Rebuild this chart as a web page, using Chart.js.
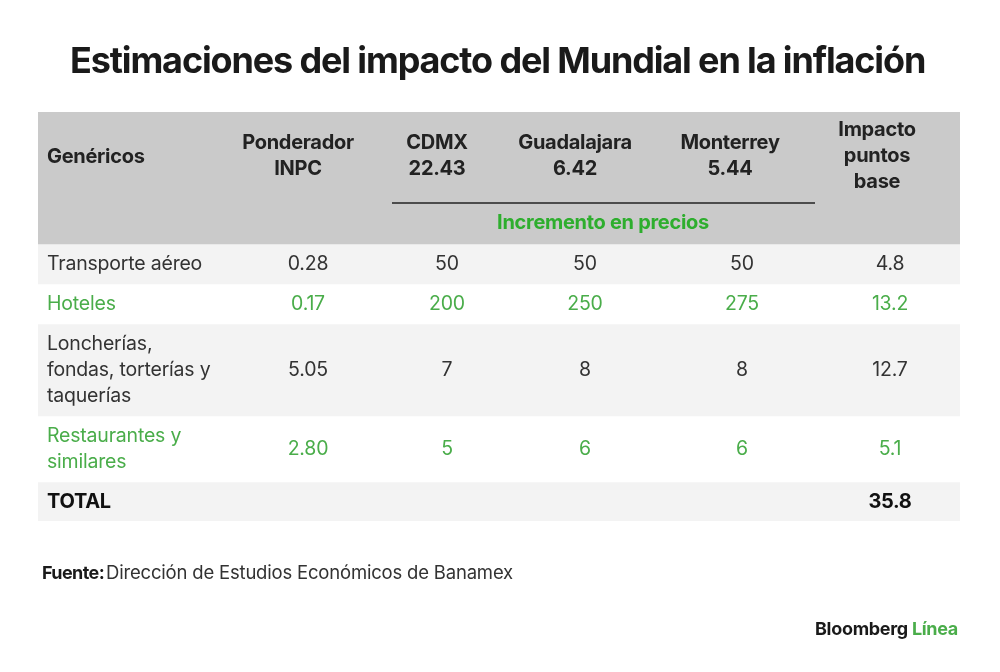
<!DOCTYPE html>
<html lang="es">
<head>
<meta charset="UTF-8" />
<title>Estimaciones del impacto del Mundial en la inflación</title>
<script src="https://cdn.jsdelivr.net/npm/chart.js"></script>
<style>
  html, body { margin: 0; padding: 0; background: #fff; }
  canvas { display: block; }
</style>
</head>
<body>
<canvas id="tabla" width="1000" height="672"></canvas>
<script>
// datos de la tabla
const titulo = "Estimaciones del impacto del Mundial en la inflación";
const genericos = ["Transporte aéreo", "Hoteles", "Loncherías,\nfondas, torterías y\ntaquerías", "Restaurantes y\nsimilares"];
const ponderador = [0.28, 0.17, 5.05, 2.80];
const ciudades = ["CDMX", "Guadalajara", "Monterrey"];
const pesoCiudad = [22.43, 6.42, 5.44];
const cdmx = [50, 200, 7, 5];
const guadalajara = [50, 250, 8, 6];
const monterrey = [50, 275, 8, 6];
const impacto = [4.8, 13.2, 12.7, 5.1];
const totalImpacto = 35.8;
const filasVerdes = [1, 3];
const fuente = "Dirección de Estudios Económicos de Banamex";

// layout
const FONT = "Inter, 'Liberation Sans', sans-serif";
const GREEN = "#4aad4a";
const GREEN_BOLD = "#2eae2e";
const HEADER_H = 132;
const LINE_H = 26;
const rowH = lines => 14 + lines * LINE_H;

const bodyLines = genericos.map(g => g.split("\n").length);
const edges = [0, HEADER_H];
bodyLines.forEach(n => edges.push(edges[edges.length - 1] + rowH(n)));
edges.push(edges[edges.length - 1] + 39); // fila TOTAL
const tableH = edges[edges.length - 1];

const rowColors = ["#cacaca"];
for (let i = 0; i < genericos.length + 1; i++) rowColors.push(i % 2 === 0 ? "#f3f3f3" : "#ffffff");

// posiciones de columna (x de la tabla, 0..922)
const colHead = [260, 399, 537, 692, 839];
const colData = [270, 409, 547, 704, 852];

const datasets = rowColors.map((c, i) => ({
  label: "fila" + i,
  data: [[edges[i], edges[i + 1]]],
  backgroundColor: c,
  borderWidth: 0,
  borderSkipped: false,
  barPercentage: 1,
  categoryPercentage: 1,
  grouped: false
}));

function fitText(ctx, text, x, y, width) {
  ctx.letterSpacing = "0px";
  const w = ctx.measureText(text).width;
  const n = [...text].length;
  ctx.letterSpacing = ((width - w) / n).toFixed(2) + "px";
  ctx.fillText(text, x, y);
  ctx.letterSpacing = "0px";
}

const textoTabla = {
  id: "textoTabla",
  afterDatasetsDraw(chart) {
    const ctx = chart.ctx;
    const xs = chart.scales.col;
    const ys = chart.scales.y;
    const X = v => xs.getPixelForValue(v);
    const Y = v => ys.getPixelForValue(v);
    ctx.save();
    ctx.textBaseline = "middle";
    ctx.letterSpacing = "-0.3px";

    // encabezado
    ctx.fillStyle = "#222";
    ctx.font = "bold 20px " + FONT;
    ctx.textAlign = "left";
    ctx.fillText("Genéricos", X(9), Y(45));
    ctx.textAlign = "center";
    const heads = [
      ["Ponderador", "INPC"],
      [ciudades[0], pesoCiudad[0].toFixed(2)],
      [ciudades[1], pesoCiudad[1].toFixed(2)],
      [ciudades[2], pesoCiudad[2].toFixed(2)],
      ["Impacto", "puntos", "base"]
    ];
    heads.forEach((h, c) => {
      const y0 = 44 - (h.length - 1) * LINE_H / 2;
      h.forEach((t, k) => ctx.fillText(t, X(colHead[c]), Y(y0 + k * LINE_H)));
    });
    ctx.strokeStyle = "#222";
    ctx.lineWidth = 1.6;
    ctx.beginPath();
    ctx.moveTo(X(354), Y(91));
    ctx.lineTo(X(777), Y(91));
    ctx.stroke();
    ctx.fillStyle = GREEN_BOLD;
    ctx.fillText("Incremento en precios", X(565), Y(111));

    // filas
    ctx.font = "19.5px " + FONT;
    ctx.letterSpacing = "-0.2px";
    genericos.forEach((g, r) => {
      const mid = (edges[r + 1] + edges[r + 2]) / 2;
      ctx.fillStyle = filasVerdes.includes(r) ? GREEN : "#333";
      const lines = g.split("\n");
      ctx.textAlign = "left";
      lines.forEach((t, k) => ctx.fillText(t, X(9), Y(mid + (k - (lines.length - 1) / 2) * LINE_H)));
      ctx.textAlign = "center";
      const vals = [ponderador[r].toFixed(2), cdmx[r], guadalajara[r], monterrey[r], impacto[r].toFixed(1)];
      vals.forEach((v, c) => ctx.fillText(String(v), X(colData[c]), Y(mid)));
    });

    // total
    const midT = (edges[edges.length - 2] + edges[edges.length - 1]) / 2;
    ctx.fillStyle = "#111";
    ctx.font = "bold 20px " + FONT;
    ctx.letterSpacing = "-0.3px";
    ctx.textAlign = "left";
    ctx.fillText("TOTAL", X(9), Y(midT));
    ctx.textAlign = "center";
    ctx.fillText(totalImpacto.toFixed(1), X(colData[4]), Y(midT));
    ctx.restore();
  },
  afterDraw(chart) {
    const ctx = chart.ctx;
    ctx.save();
    ctx.textBaseline = "alphabetic";
    // titulo
    ctx.fillStyle = "#1a1a1a";
    ctx.font = "bold 36px " + FONT;
    ctx.textAlign = "left";
    fitText(ctx, titulo, 70, 73, 855);

    // fuente
    ctx.fillStyle = "#1a1a1a";
    ctx.font = "bold 18px " + FONT;
    ctx.letterSpacing = "-0.6px";
    ctx.fillText("Fuente:", 42, 579);
    const wF = ctx.measureText("Fuente:").width;
    ctx.fillStyle = "#333";
    ctx.font = "18.5px " + FONT;
    fitText(ctx, fuente, 42 + wF + 2, 579, 513 - (42 + wF + 2));

    // marca
    ctx.font = "bold 18px " + FONT;
    ctx.letterSpacing = "-0.3px";
    ctx.fillStyle = "#1a1a1a";
    const wB = ctx.measureText("Bloomberg ").width;
    const wL = ctx.measureText("Línea").width;
    const x0 = 958 - wB - wL;
    ctx.fillText("Bloomberg ", x0, 635);
    ctx.fillStyle = GREEN;
    ctx.fillText("Línea", x0 + wB, 635);
    ctx.restore();
  }
};

new Chart(document.getElementById("tabla"), {
  type: "bar",
  data: { labels: ["tabla"], datasets: datasets },
  options: {
    responsive: false,
    animation: false,
    layout: { padding: { left: 38, right: 40, top: 112, bottom: 672 - 112 - tableH } },
    plugins: { legend: { display: false }, tooltip: { enabled: false }, title: { display: false } },
    scales: {
      x: { display: false, offset: true },
      col: { type: "linear", axis: "x", position: "top", display: false, offset: false, min: 0, max: 922 },
      y: { type: "linear", display: false, reverse: true, min: 0, max: tableH }
    }
  },
  plugins: [textoTabla]
});
</script>
</body>
</html>
